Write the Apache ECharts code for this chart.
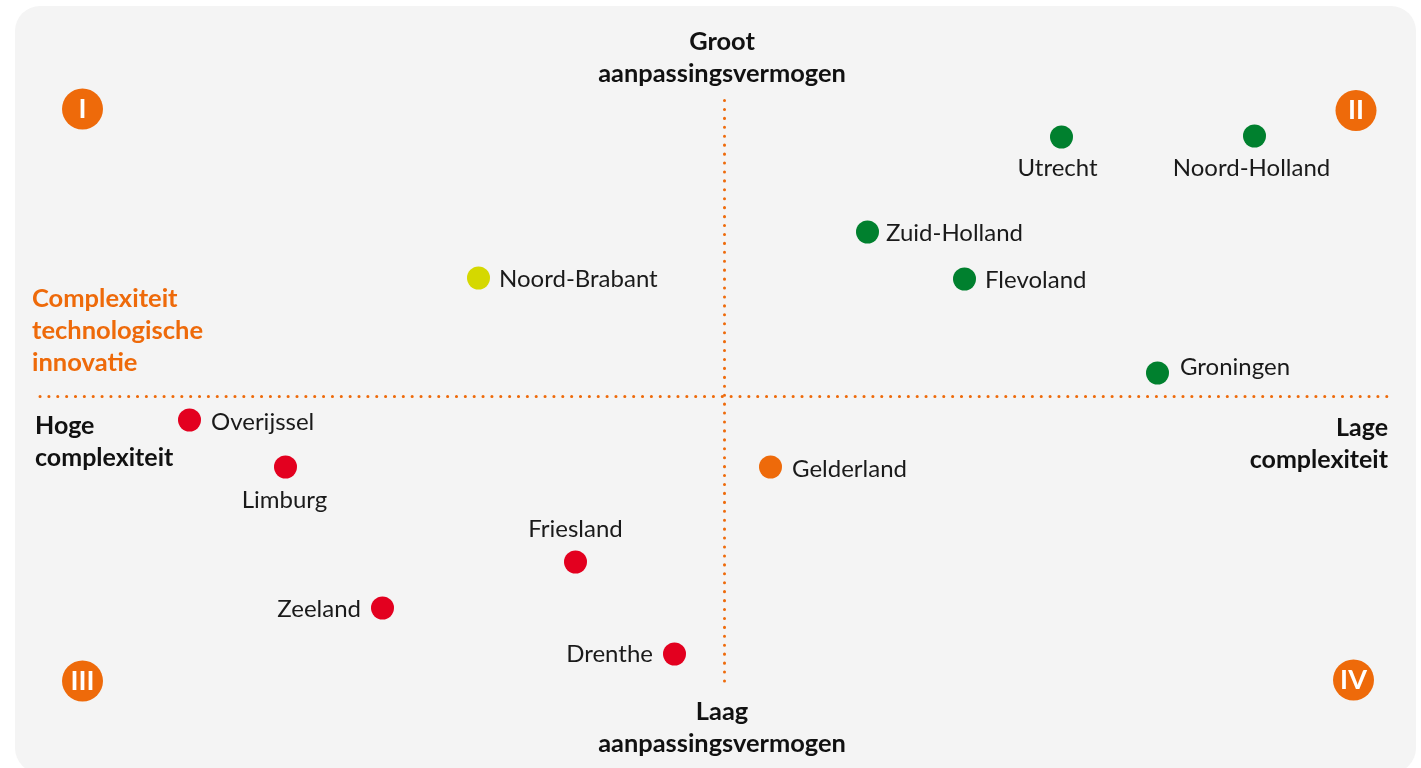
<!DOCTYPE html>
<html>
<head>
<meta charset="utf-8">
<title>Complexiteit technologische innovatie</title>
<script src="https://cdn.jsdelivr.net/npm/echarts@6/dist/echarts.min.js"></script>
<style>
  html, body { margin: 0; padding: 0; background: #fff; overflow: hidden; }
  #chart { width: 1421px; height: 768px; }
</style>
</head>
<body>
<div id="chart"></div>
<script>
// provincies, x = complexiteit, y = aanpassingsvermogen
var provinces = ["Utrecht", "Noord-Holland", "Zuid-Holland", "Flevoland", "Groningen", "Noord-Brabant", "Gelderland", "Overijssel", "Limburg", "Friesland", "Zeeland", "Drenthe"];
var xValues = [33.7, 53.0, 14.3, 24.0, 43.3, -24.6, 4.6, -53.5, -43.9, -14.9, -34.2, -5.0];
var yValues = [25.9, 26.0, 16.4, 11.7, 2.3, 11.8, -7.1, -2.4, -7.1, -16.6, -21.2, -25.8];
var scores = ["groen", "groen", "groen", "groen", "groen", "geel", "oranje", "rood", "rood", "rood", "rood", "rood"];

var quadrants = ["I", "II", "III", "IV"];
var quadrantX = [-64.2, 63.15, -64.2, 62.9];
var quadrantY = [28.7, 28.55, -28.5, -28.4];

var scoreColors = { groen: "#00802e", geel: "#d5d800", oranje: "#ee6a0a", rood: "#e3001f" };
var labelPlace = {
  "Utrecht": { position: "bottom", distance: 8, offset: [-4, 0] },
  "Noord-Holland": { position: "bottom", distance: 8, offset: [-3, 1] },
  "Zuid-Holland": { position: "right", distance: 7, offset: [0, 1] },
  "Flevoland": { position: "right", distance: 9, offset: [0, 1] },
  "Limburg": { position: "bottom", distance: 8, offset: [-1, 2] },
  "Friesland": { position: "top", distance: 8, offset: [0, -1] },
  "Zeeland": { position: "left", distance: 10, offset: [0, 1] },
  "Drenthe": { position: "left", distance: 10, offset: [0, 0] },
  "Overijssel": { position: "right", distance: 10, offset: [0, 2] },
  "Gelderland": { position: "right", distance: 10, offset: [0, 2] },
  "Groningen": { position: "right", distance: 11, offset: [0, -6] }
};

var FONT = "Lato, 'Noto Sans', sans-serif";
var ORANGE = "#ee6a0a";
var TEXT = "#1a1a1a";

var chart = echarts.init(document.getElementById("chart"), null, { renderer: "canvas" });

var points = provinces.map(function (name, i) {
  var place = labelPlace[name] || { position: "right", distance: 9, offset: [0, 1] };
  return {
    name: name,
    value: [xValues[i], yValues[i]],
    itemStyle: { color: scoreColors[scores[i]], opacity: 1 },
    label: {
      show: true,
      formatter: name,
      position: place.position,
      distance: place.distance,
      offset: place.offset
    }
  };
});

function note(x, y, text, align, color, size) {
  return {
    type: "text",
    x: x,
    y: y,
    silent: true,
    style: {
      text: text,
      x: 0,
      y: 0,
      align: align,
      verticalAlign: "top",
      fill: color || "#111",
      font: "bold " + (size || 25) + "px " + FONT,
      lineHeight: 32
    }
  };
}

function dotted(period) {
  return { color: ORANGE, width: 3, cap: "round", opacity: 1, type: [0.1, period - 0.1] };
}

chart.setOption({
  animation: false,
  backgroundColor: "#fff",
  grid: { left: 40, right: 34, top: 100, bottom: 87 },
  xAxis: {
    type: "value",
    min: -68.45,
    max: 66.25,
    axisLine: { show: true, onZero: true, lineStyle: dotted(8.86) },
    axisTick: { show: false },
    axisLabel: { show: false },
    splitLine: { show: false }
  },
  yAxis: {
    type: "value",
    min: -28.5,
    max: 29.6,
    axisLine: { show: true, onZero: true, lineStyle: dotted(8.93) },
    axisTick: { show: false },
    axisLabel: { show: false },
    splitLine: { show: false }
  },
  graphic: {
    elements: [
      {
        type: "rect",
        z: -10,
        silent: true,
        shape: { x: 15, y: 6, width: 1401, height: 767, r: 25 },
        style: { fill: "#f4f4f4" }
      },
      note(722, 26, "Groot\naanpassingsvermogen", "center", null, 25.4),
      note(722, 696, "Laag\naanpassingsvermogen", "center", null, 25.4),
      note(32, 283, "Complexiteit\ntechnologische\ninnovatie", "left", ORANGE, 25.5),
      note(35, 410, "Hoge\ncomplexiteit", "left"),
      note(1388, 412, "Lage\ncomplexiteit", "right")
    ]
  },
  series: [
    {
      name: "Provincies",
      type: "scatter",
      symbolSize: 23,
      clip: false,
      data: points,
      label: { fontFamily: FONT, fontSize: 24, color: TEXT, opacity: 1 }
    },
    {
      name: "Kwadranten",
      type: "scatter",
      symbolSize: 41,
      clip: false,
      itemStyle: { color: ORANGE, opacity: 1 },
      data: quadrants.map(function (q, i) {
        return { name: q, value: [quadrantX[i], quadrantY[i]] };
      }),
      label: {
        show: true,
        position: "inside",
        formatter: "{b}",
        color: "#fff",
        opacity: 1,
        fontFamily: FONT,
        fontSize: 27,
        fontWeight: "bold"
      }
    }
  ]
});
</script>
</body>
</html>
